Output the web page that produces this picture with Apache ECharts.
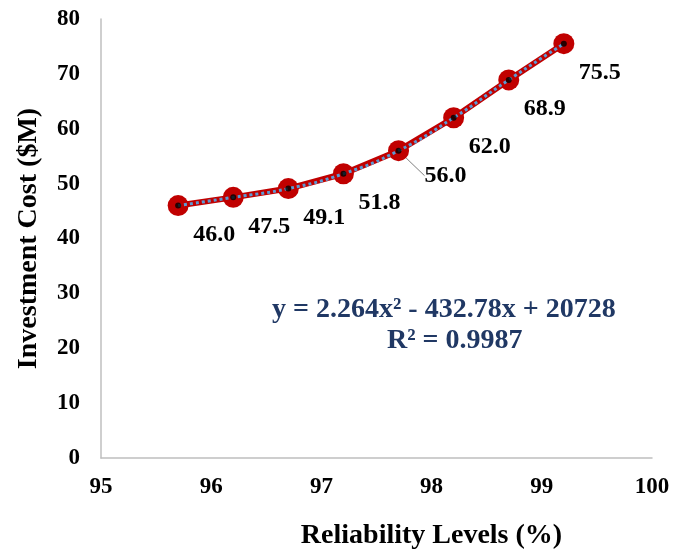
<!DOCTYPE html>
<html>
<head>
<meta charset="utf-8">
<script src="https://cdn.jsdelivr.net/npm/echarts@6/dist/echarts.min.js"></script>
<style>
  html, body { margin: 0; padding: 0; background: #fff; }
  #chart { width: 688px; height: 555px; }
</style>
</head>
<body>
<div id="chart"></div>
<script>
// reliability levels (%) and investment cost ($M)
var reliability = [95.7, 96.2, 96.7, 97.2, 97.7, 98.2, 98.7, 99.2];
var cost = [46.0, 47.5, 49.1, 51.8, 56.0, 62.0, 68.9, 75.5];
var xTicks = [95, 96, 97, 98, 99, 100];
var yTicks = [0, 10, 20, 30, 40, 50, 60, 70, 80];
var equation = ['y = 2.264x\u00B2 - 432.78x + 20728', 'R\u00B2 = 0.9987'];

var font = '"Liberation Serif", "Times New Roman", serif';

function init(echarts) {
    var myChart = echarts.init(document.getElementById('chart'));

    var points = [];
    for (var i = 0; i < reliability.length; i++) {
        var item = { value: [reliability[i], cost[i]] };
        // the 56.0 label sits a bit further out with a leader line
        if (i == 4) { item.labelLine = { show: true }; }
        points.push(item);
    }

    var option = {
        animation: false,
        grid: { left: 101, top: 19, right: 36, bottom: 92 },
        xAxis: {
            type: 'value', min: xTicks[0], max: xTicks[xTicks.length - 1], interval: 1,
            name: 'Reliability Levels (%)', nameLocation: 'middle', nameGap: 64,
            nameTextStyle: { fontFamily: font, fontWeight: 'bold', fontSize: 28, color: '#000', padding: [0, 0, 0, 110] },
            axisLine: { lineStyle: { color: '#bfbfbf', width: 1.5 } },
            axisTick: { show: false },
            splitLine: { show: false },
            axisLabel: { fontFamily: font, fontWeight: 'bold', fontSize: 23, color: '#000', margin: 18 }
        },
        yAxis: {
            type: 'value', min: yTicks[0], max: yTicks[yTicks.length - 1], interval: 10,
            name: 'Investment Cost ($M)', nameLocation: 'middle', nameGap: 58,
            nameTextStyle: { fontFamily: font, fontWeight: 'bold', fontSize: 28, color: '#000' },
            axisLine: { show: true, lineStyle: { color: '#bfbfbf', width: 1.5 } },
            axisTick: { show: false },
            splitLine: { show: false },
            axisLabel: { fontFamily: font, fontWeight: 'bold', fontSize: 23, color: '#000', margin: 21 }
        },
        series: [
            {   name: 'cost', type: 'line', data: points,
                lineStyle: { color: '#c00000', width: 6 },
                itemStyle: { color: '#c00000' },
                symbol: 'circle', symbolSize: 21,
                label: { show: true, position: 'inside',
                         fontFamily: font, fontWeight: 'bold', fontSize: 24, color: '#000',
                         formatter: function (p) { return p.value[1].toFixed(1); } },
                labelLine: { show: false, lineStyle: { color: '#7f7f7f', width: 1 } },
                labelLayout: function (p) {
                    if (p.dataIndex == 4) { return { dx: 47, dy: 25 }; }
                    return { dx: 36, dy: 29 };
                },
                z: 2
            },
            {   name: 'trend', type: 'line', smooth: true,
                data: reliability.map(function (x, i) { return [x, cost[i]]; }),
                lineStyle: { color: '#5b9bd5', width: 3, type: 'dotted' },
                symbol: 'none', z: 3, silent: true
            },
            {   name: 'dot', type: 'scatter',
                data: reliability.map(function (x, i) { return [x, cost[i]]; }),
                symbol: 'circle', symbolSize: 6,
                itemStyle: { color: '#000' }, z: 4, silent: true
            }
        ],
        graphic: [
            {   type: 'text', left: 462 - 190, top: 296,
                style: { text: equation[0], fontFamily: font, fontWeight: 'bold', fontSize: 28, fill: '#203864' } },
            {   type: 'text', left: 462 - 75, top: 327,
                style: { text: equation[1], fontFamily: font, fontWeight: 'bold', fontSize: 28, fill: '#203864' } }
        ]
    };
    myChart.setOption(option);
    window.addEventListener("resize", function() { myChart.resize(); });
}

init(echarts);
</script>
</body>
</html>
